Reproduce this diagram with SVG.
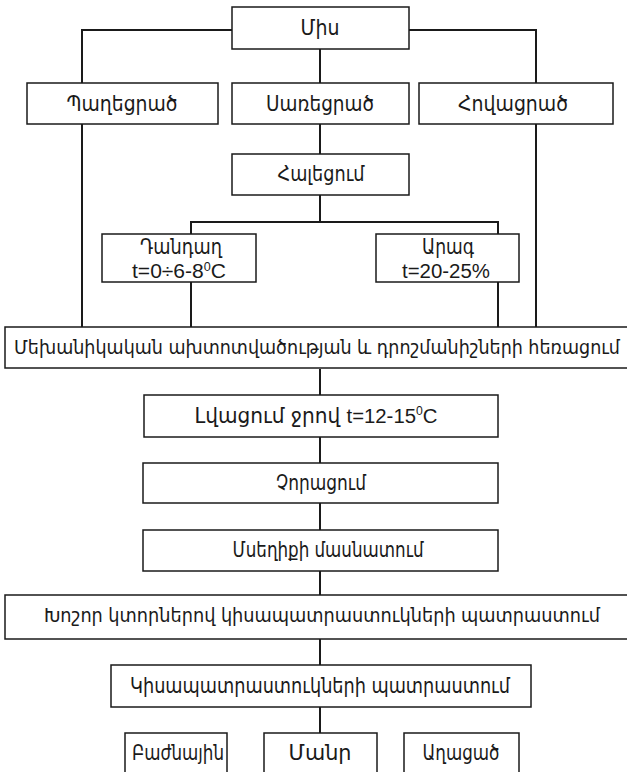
<svg xmlns="http://www.w3.org/2000/svg" width="627" height="772" viewBox="0 0 627 772">
<style>
.box{fill:#fff;stroke:#1a1a1a;stroke-width:1.5}
.ln{fill:none;stroke:#1a1a1a;stroke-width:2}
text{font-family:"Liberation Sans","DejaVu Sans Condensed","DejaVu Sans",sans-serif;font-size:22px;fill:#1a1a1a;text-anchor:middle}
.lat{font-size:20px}
.sup{font-size:12px}
.long{font-size:19px}
</style>
<rect width="627" height="772" fill="#fff"/>
<g id="connectors">
<path class="ln" d="M232,30 H82 V327"/>
<path class="ln" d="M409,30 H536 V327"/>
<path class="ln" d="M320,49 V83"/>
<path class="ln" d="M320,124 V154"/>
<path class="ln" d="M320,195 V222"/>
<path class="ln" d="M191,234 V222 H498 V234"/>
<path class="ln" d="M191,282 V327"/>
<path class="ln" d="M498,282 V327"/>
<path class="ln" d="M320,369 V395"/>
<path class="ln" d="M320,437 V463"/>
<path class="ln" d="M320,503 V530"/>
<path class="ln" d="M320,571 V595"/>
<path class="ln" d="M320,639 V665"/>
<path class="ln" d="M320,707 V733"/>
</g>
<g id="n_mis"><rect class="box" x="232" y="7" width="177" height="42"/><text x="320" y="35" textLength="39" lengthAdjust="spacingAndGlyphs">Միս</text></g>
<g id="n_pagh"><rect class="box" x="27" y="83" width="191" height="41"/><text x="122" y="111" textLength="111" lengthAdjust="spacingAndGlyphs">Պաղեցրած</text></g>
<g id="n_sarr"><rect class="box" x="232" y="83" width="177" height="41"/><text x="320" y="111" textLength="108" lengthAdjust="spacingAndGlyphs">Սառեցրած</text></g>
<g id="n_hov"><rect class="box" x="419" y="83" width="194" height="41"/><text x="513" y="111" textLength="110" lengthAdjust="spacingAndGlyphs">Հովացրած</text></g>
<g id="n_hal"><rect class="box" x="232" y="154" width="177" height="41"/><text x="321" y="181" textLength="87" lengthAdjust="spacingAndGlyphs">Հալեցում</text></g>
<g id="n_dand"><rect class="box" x="102" y="234" width="154" height="48"/><text x="181" y="254" textLength="82" lengthAdjust="spacingAndGlyphs">Դանդաղ</text><text class="lat" x="179" y="278" textLength="94" lengthAdjust="spacingAndGlyphs">t=0÷6-8<tspan class="sup" dy="-7">0</tspan><tspan dy="7">C</tspan></text></g>
<g id="n_arag"><rect class="box" x="376" y="234" width="143" height="48"/><text x="448" y="254" textLength="52" lengthAdjust="spacingAndGlyphs">Արագ</text><text class="lat" x="446" y="278" textLength="88" lengthAdjust="spacingAndGlyphs">t=20-25%</text></g>
<g id="n_mekh"><rect class="box" x="5" y="327" width="635" height="41"/><text class="long" x="317" y="354" textLength="606" lengthAdjust="spacingAndGlyphs">Մեխանիկական ախտոտվածության և դրոշմանիշների հեռացում</text></g>
<g id="n_lva"><rect class="box" x="144" y="395" width="354" height="42"/><text x="316" y="423" textLength="243" lengthAdjust="spacingAndGlyphs">Լվացում ջրով <tspan class="lat">t=12-15</tspan><tspan class="sup" dy="-8">0</tspan><tspan class="lat" dy="8">C</tspan></text></g>
<g id="n_chor"><rect class="box" x="143" y="463" width="355" height="40"/><text x="321" y="490" textLength="90" lengthAdjust="spacingAndGlyphs">Չորացում</text></g>
<g id="n_mas"><rect class="box" x="143" y="530" width="355" height="41"/><text x="328" y="557" textLength="191" lengthAdjust="spacingAndGlyphs">Մսեղիքի մասնատում</text></g>
<g id="n_khosh"><rect class="box" x="5" y="595" width="635" height="44"/><text class="long" x="322" y="622" textLength="556" lengthAdjust="spacingAndGlyphs">Խոշոր կտորներով կիսապատրաստուկների պատրաստում</text></g>
<g id="n_kis"><rect class="box" x="111" y="665" width="420" height="42"/><text x="320" y="693" textLength="380" lengthAdjust="spacingAndGlyphs">Կիսապատրաստուկների պատրաստում</text></g>
<g id="n_bazh"><rect class="box" x="125" y="733" width="102" height="50"/><text x="178" y="760" textLength="92" lengthAdjust="spacingAndGlyphs">Բաժնային</text></g>
<g id="n_manr"><rect class="box" x="264" y="733" width="113" height="50"/><text x="320" y="760" textLength="63" lengthAdjust="spacingAndGlyphs">Մանր</text></g>
<g id="n_agh"><rect class="box" x="404" y="733" width="115" height="50"/><text x="461" y="760" textLength="77" lengthAdjust="spacingAndGlyphs">Աղացած</text></g>
</svg>
